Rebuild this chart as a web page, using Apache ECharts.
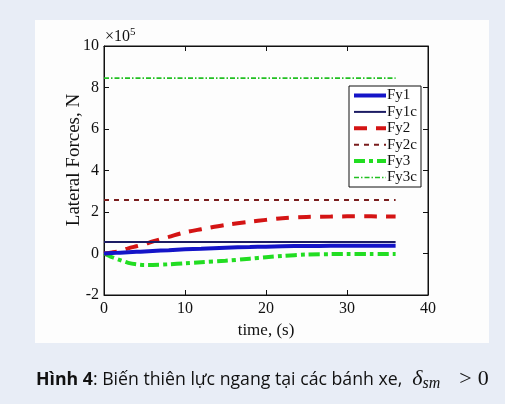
<!DOCTYPE html>
<html>
<head>
<meta charset="utf-8">
<script src="https://cdn.jsdelivr.net/npm/echarts@6/dist/echarts.min.js"></script>
<style>
html,body{margin:0;padding:0;background:#e8edf6;width:505px;height:404px;overflow:hidden;}
#panel{position:absolute;left:35px;top:20px;width:454px;height:323px;background:#fdfdfd;}
#chart{position:absolute;left:0;top:0;width:505px;height:404px;}
</style>
</head>
<body>
<div id="panel"></div>
<div id="chart"></div>
<script>
// time (s)
const time = [0,1,2,3,4,5,6,8,10,12,15,18,20,22,25,28,30,33,36];
// lateral forces (x10^5 N)
const fy1 = [0,0.02,0.04,0.06,0.08,0.10,0.12,0.16,0.20,0.23,0.28,0.31,0.33,0.35,0.36,0.37,0.37,0.37,0.37];
const fy2 = [0,0.05,0.12,0.25,0.35,0.45,0.58,0.80,1.02,1.17,1.38,1.53,1.62,1.70,1.76,1.78,1.79,1.79,1.78];
const fy3 = [0,-0.18,-0.32,-0.45,-0.52,-0.55,-0.55,-0.52,-0.47,-0.42,-0.35,-0.25,-0.18,-0.12,-0.05,-0.03,-0.02,-0.02,-0.02];
const constTime = [0,36];
const fy1c = [0.55,0.55];
const fy2c = [2.58,2.58];
const fy3c = [8.45,8.45];
const seriesNames = ['Fy1','Fy1c','Fy2','Fy2c','Fy3','Fy3c'];
const xTicks = [0,10,20,30,40];
const yTicks = [-2,0,2,4,6,8,10];

function pairs(t, v){ return t.map((x,i)=>[x,v[i]]); }

const serif = 'Liberation Serif';
const chart = echarts.init(document.getElementById('chart'), null, {renderer:'canvas'});

const styles = [
  {data:pairs(time,fy1), color:'#1414c8', width:4, type:'solid'},
  {data:pairs(constTime,fy1c), color:'#1c1c64', width:2, type:'solid'},
  {data:pairs(time,fy2), color:'#d41414', width:4, type:[13,9]},
  {data:pairs(constTime,fy2c), color:'#7a1e1e', width:2, type:[5,5]},
  {data:pairs(time,fy3), color:'#22dd22', width:4, type:[11,4,4,4]},
  {data:pairs(constTime,fy3c), color:'#22c022', width:1.6, type:[5,2,1.5,2]}
];

const series = styles.map((s,i)=>({
  name: seriesNames[i],
  type:'line',
  data:s.data,
  smooth: (i%2===0) ? 0.3 : false,
  symbol:'none',
  z: 10-i,
  lineStyle:{color:s.color, width:s.width, type:s.type, cap:'butt'},
  itemStyle:{color:s.color}
}));

const axisCommon = {
  axisLine:{show:true, onZero:false, lineStyle:{color:'#111', width:1}},
  axisTick:{show:true, inside:true, length:5, lineStyle:{color:'#111'}},
  splitLine:{show:false}
};

chart.setOption({
  animation:false,
  grid:{left:104, top:46, width:324, height:249, show:true, borderColor:'#111', borderWidth:1, backgroundColor:'transparent'},
  legend:{
    data:seriesNames.map((n,i)=>({name:n, lineStyle:{width:styles[i].width}})),
    orient:'vertical',
    left:349, top:86,
    itemWidth:32, itemHeight:12, itemGap:1.4,
    padding:[2,4,2,3],
    backgroundColor:'#fff',
    borderColor:'#111', borderWidth:1,
    itemStyle:{color:'rgba(0,0,0,0)', borderColor:'rgba(0,0,0,0)', borderWidth:0},
    textStyle:{fontFamily:serif, fontSize:15, lineHeight:14, color:'#111', padding:[0,0,0,-4]}
  },
  xAxis:[
    Object.assign({type:'value', min:0, max:40, interval:10, position:'bottom',
      name:'time, (s)', nameLocation:'middle', nameGap:26,
      nameTextStyle:{fontFamily:serif, fontSize:17, color:'#111'},
      axisLabel:{fontFamily:serif, fontSize:16, color:'#111', margin:6,
        formatter:v=>xTicks.includes(v)?String(v):''}}, axisCommon),
    Object.assign({type:'value', min:0, max:40, interval:10, position:'top',
      axisLabel:{show:false}}, axisCommon)
  ],
  yAxis:[
    Object.assign({type:'value', min:-2, max:10, interval:2, position:'left',
      axisLabel:{fontFamily:serif, fontSize:16, color:'#111', margin:5,
        formatter:v=>yTicks.includes(v)?String(v):''}}, axisCommon),
    Object.assign({type:'value', min:-2, max:10, interval:2, position:'right',
      axisLabel:{show:false}}, axisCommon)
  ],
  graphic:[
    {type:'text', x:74, y:160, rotation:Math.PI/2, style:{
      text:'Lateral Forces, N', fontFamily:serif, fontSize:19, fill:'#111',
      align:'center', verticalAlign:'middle'}},
    {type:'text', left:105, top:27, style:{
      text:'{a|×10}{b|5}', rich:{
        a:{fontFamily:serif, fontSize:16, fill:'#111', verticalAlign:'bottom', lineHeight:18},
        b:{fontFamily:serif, fontSize:11, fill:'#111', verticalAlign:'top', lineHeight:18, padding:[0,0,9,0]}
      }}},
    {type:'text', left:36, top:367, style:{
      text:'{h|Hình 4}{n|: Biến thiên lực ngang tại các bánh xe,}{d|δ}{s|sm}{g|>}{z|0}',
      rich:{
        h:{fontFamily:'Open Sans', fontSize:17.7, fontWeight:'bold', fill:'#111', lineHeight:26},
        n:{fontFamily:'Open Sans', fontSize:17.7, fill:'#111', lineHeight:26},
        d:{fontFamily:serif, fontSize:22, fontStyle:'italic', fill:'#111', lineHeight:26, padding:[0,0,0,10]},
        s:{fontFamily:serif, fontSize:16, fontStyle:'italic', fill:'#111', lineHeight:26, padding:[9,0,0,0]},
        g:{fontFamily:serif, fontSize:22, fill:'#111', lineHeight:26, padding:[0,0,0,19]},
        z:{fontFamily:serif, fontSize:22, fill:'#111', lineHeight:26, padding:[0,0,0,6]}
      }}}
  ],
  series:series
});
</script>
</body>
</html>
